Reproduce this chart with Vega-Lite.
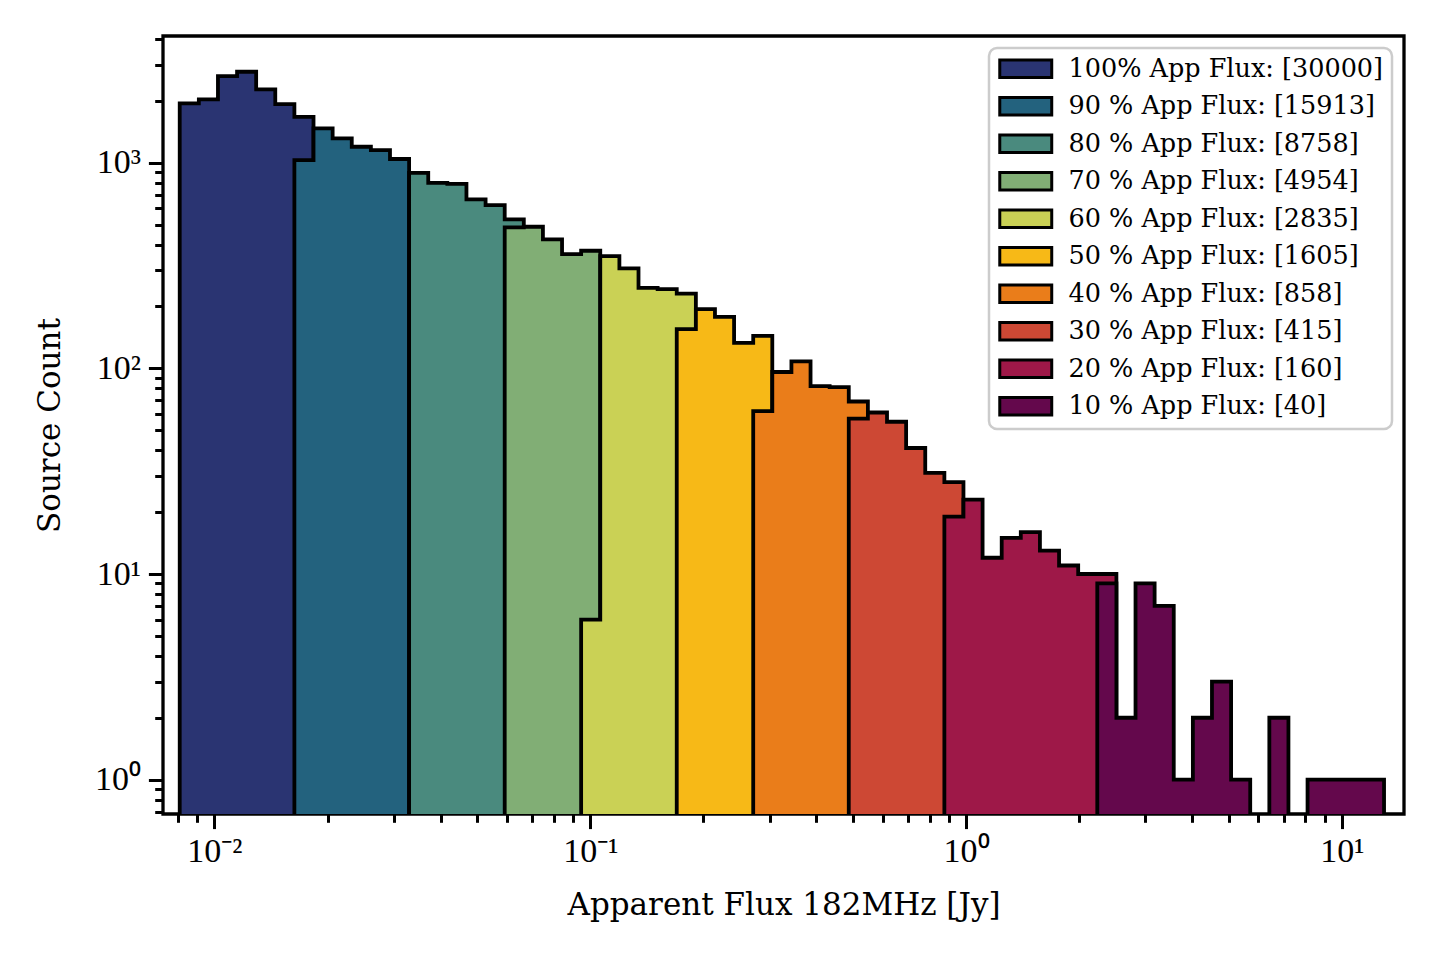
{
  "$schema": "https://vega.github.io/schema/vega-lite/v6.json",
  "width": 1241,
  "height": 778,
  "autosize": "none",
  "padding": {"left": 163, "top": 36, "right": 36, "bottom": 146},
  "background": "white",
  "config": {
    "view": {"stroke": "black", "strokeWidth": 3.3},
    "font": "Liberation Serif"
  },
  "data": {
    "values": [
      {"sample": "100% App Flux: [30000]", "seg": 0, "a": 0.008083, "b": 0.009088, "n": 1942},
      {"sample": "100% App Flux: [30000]", "seg": 0, "a": 0.009088, "b": 0.010217, "n": 2032},
      {"sample": "100% App Flux: [30000]", "seg": 0, "a": 0.010217, "b": 0.011487, "n": 2636},
      {"sample": "100% App Flux: [30000]", "seg": 0, "a": 0.011487, "b": 0.012912, "n": 2767},
      {"sample": "100% App Flux: [30000]", "seg": 0, "a": 0.012912, "b": 0.014516, "n": 2272},
      {"sample": "100% App Flux: [30000]", "seg": 0, "a": 0.014516, "b": 0.016320, "n": 1927},
      {"sample": "100% App Flux: [30000]", "seg": 0, "a": 0.016320, "b": 0.018349, "n": 1671},
      {"sample": "90 % App Flux: [15913]", "seg": 0, "a": 0.016320, "b": 0.018349, "n": 1030},
      {"sample": "90 % App Flux: [15913]", "seg": 0, "a": 0.018349, "b": 0.020630, "n": 1468},
      {"sample": "90 % App Flux: [15913]", "seg": 0, "a": 0.020630, "b": 0.023195, "n": 1313},
      {"sample": "90 % App Flux: [15913]", "seg": 0, "a": 0.023195, "b": 0.026080, "n": 1195},
      {"sample": "90 % App Flux: [15913]", "seg": 0, "a": 0.026080, "b": 0.029316, "n": 1151},
      {"sample": "90 % App Flux: [15913]", "seg": 0, "a": 0.029316, "b": 0.032961, "n": 1042},
      {"sample": "80 % App Flux: [8758]", "seg": 0, "a": 0.032961, "b": 0.037060, "n": 893},
      {"sample": "80 % App Flux: [8758]", "seg": 0, "a": 0.037060, "b": 0.041660, "n": 798},
      {"sample": "80 % App Flux: [8758]", "seg": 0, "a": 0.041660, "b": 0.046838, "n": 789},
      {"sample": "80 % App Flux: [8758]", "seg": 0, "a": 0.046838, "b": 0.052665, "n": 663},
      {"sample": "80 % App Flux: [8758]", "seg": 0, "a": 0.052665, "b": 0.059211, "n": 622},
      {"sample": "80 % App Flux: [8758]", "seg": 0, "a": 0.059211, "b": 0.066563, "n": 530},
      {"sample": "70 % App Flux: [4954]", "seg": 0, "a": 0.059211, "b": 0.066563, "n": 485},
      {"sample": "70 % App Flux: [4954]", "seg": 0, "a": 0.066563, "b": 0.074836, "n": 488},
      {"sample": "70 % App Flux: [4954]", "seg": 0, "a": 0.074836, "b": 0.084140, "n": 424},
      {"sample": "70 % App Flux: [4954]", "seg": 0, "a": 0.084140, "b": 0.094579, "n": 359},
      {"sample": "70 % App Flux: [4954]", "seg": 0, "a": 0.094579, "b": 0.10634, "n": 373},
      {"sample": "60 % App Flux: [2835]", "seg": 0, "a": 0.094579, "b": 0.10634, "n": 6},
      {"sample": "60 % App Flux: [2835]", "seg": 0, "a": 0.10634, "b": 0.11956, "n": 351},
      {"sample": "60 % App Flux: [2835]", "seg": 0, "a": 0.11956, "b": 0.13442, "n": 306},
      {"sample": "60 % App Flux: [2835]", "seg": 0, "a": 0.13442, "b": 0.15112, "n": 246},
      {"sample": "60 % App Flux: [2835]", "seg": 0, "a": 0.15112, "b": 0.16991, "n": 243},
      {"sample": "60 % App Flux: [2835]", "seg": 0, "a": 0.16991, "b": 0.19104, "n": 231},
      {"sample": "50 % App Flux: [1605]", "seg": 0, "a": 0.16991, "b": 0.19104, "n": 155},
      {"sample": "50 % App Flux: [1605]", "seg": 0, "a": 0.19104, "b": 0.21475, "n": 194},
      {"sample": "50 % App Flux: [1605]", "seg": 0, "a": 0.21475, "b": 0.24144, "n": 178},
      {"sample": "50 % App Flux: [1605]", "seg": 0, "a": 0.24144, "b": 0.27146, "n": 133},
      {"sample": "50 % App Flux: [1605]", "seg": 0, "a": 0.27146, "b": 0.30514, "n": 144},
      {"sample": "40 % App Flux: [858]", "seg": 0, "a": 0.27146, "b": 0.30514, "n": 62},
      {"sample": "40 % App Flux: [858]", "seg": 0, "a": 0.30514, "b": 0.34309, "n": 96},
      {"sample": "40 % App Flux: [858]", "seg": 0, "a": 0.34309, "b": 0.38574, "n": 108},
      {"sample": "40 % App Flux: [858]", "seg": 0, "a": 0.38574, "b": 0.43362, "n": 82},
      {"sample": "40 % App Flux: [858]", "seg": 0, "a": 0.43362, "b": 0.48753, "n": 81},
      {"sample": "40 % App Flux: [858]", "seg": 0, "a": 0.48753, "b": 0.54815, "n": 69},
      {"sample": "30 % App Flux: [415]", "seg": 0, "a": 0.48753, "b": 0.54815, "n": 57},
      {"sample": "30 % App Flux: [415]", "seg": 0, "a": 0.54815, "b": 0.61630, "n": 61},
      {"sample": "30 % App Flux: [415]", "seg": 0, "a": 0.61630, "b": 0.69283, "n": 55},
      {"sample": "30 % App Flux: [415]", "seg": 0, "a": 0.69283, "b": 0.77896, "n": 41},
      {"sample": "30 % App Flux: [415]", "seg": 0, "a": 0.77896, "b": 0.87581, "n": 31},
      {"sample": "30 % App Flux: [415]", "seg": 0, "a": 0.87581, "b": 0.98446, "n": 28},
      {"sample": "20 % App Flux: [160]", "seg": 0, "a": 0.87581, "b": 0.98446, "n": 19},
      {"sample": "20 % App Flux: [160]", "seg": 0, "a": 0.98446, "b": 1.1069, "n": 23},
      {"sample": "20 % App Flux: [160]", "seg": 0, "a": 1.1069, "b": 1.2445, "n": 12},
      {"sample": "20 % App Flux: [160]", "seg": 0, "a": 1.2445, "b": 1.3989, "n": 15},
      {"sample": "20 % App Flux: [160]", "seg": 0, "a": 1.3989, "b": 1.5729, "n": 16},
      {"sample": "20 % App Flux: [160]", "seg": 0, "a": 1.5729, "b": 1.7685, "n": 13},
      {"sample": "20 % App Flux: [160]", "seg": 0, "a": 1.7685, "b": 1.9884, "n": 11},
      {"sample": "20 % App Flux: [160]", "seg": 0, "a": 1.9884, "b": 2.2352, "n": 10},
      {"sample": "20 % App Flux: [160]", "seg": 0, "a": 2.2352, "b": 2.5131, "n": 10},
      {"sample": "10 % App Flux: [40]", "seg": 1, "a": 2.2352, "b": 2.5131, "n": 9},
      {"sample": "10 % App Flux: [40]", "seg": 1, "a": 2.5131, "b": 2.8255, "n": 2},
      {"sample": "10 % App Flux: [40]", "seg": 1, "a": 2.8255, "b": 3.1762, "n": 9},
      {"sample": "10 % App Flux: [40]", "seg": 1, "a": 3.1762, "b": 3.5711, "n": 7},
      {"sample": "10 % App Flux: [40]", "seg": 1, "a": 3.5711, "b": 4.0152, "n": 1},
      {"sample": "10 % App Flux: [40]", "seg": 1, "a": 4.0152, "b": 4.5136, "n": 2},
      {"sample": "10 % App Flux: [40]", "seg": 1, "a": 4.5136, "b": 5.0748, "n": 3},
      {"sample": "10 % App Flux: [40]", "seg": 1, "a": 5.0748, "b": 5.7058, "n": 1},
      {"sample": "10 % App Flux: [40]", "seg": 2, "a": 6.4150, "b": 7.2111, "n": 2},
      {"sample": "10 % App Flux: [40]", "seg": 3, "a": 8.1078, "b": 9.1157, "n": 1},
      {"sample": "10 % App Flux: [40]", "seg": 3, "a": 9.1157, "b": 10.247, "n": 1},
      {"sample": "10 % App Flux: [40]", "seg": 3, "a": 10.247, "b": 11.522, "n": 1},
      {"sample": "10 % App Flux: [40]", "seg": 3, "a": 11.522, "b": 12.955, "n": 1}
    ]
  },
  "transform": [{"fold": ["a", "b"], "as": ["edge", "flux"]}],
  "mark": {
    "type": "area",
    "clip": true,
    "opacity": 1,
    "fillOpacity": 1,
    "stroke": "black",
    "strokeWidth": 3.8,
    "strokeJoin": "miter"
  },
  "encoding": {
    "x": {
      "field": "flux",
      "type": "quantitative",
      "scale": {"type": "log", "domain": [0.007296, 14.64], "nice": false},
      "axis": {
        "title": "Apparent Flux 182MHz [Jy]",
        "titleFont": "DejaVu Serif",
        "titleFontSize": 31,
        "titleFontWeight": "normal",
        "titleColor": "black",
        "titlePadding": 22,
        "values": [0.008, 0.009, 0.01, 0.02, 0.03, 0.04, 0.05, 0.06, 0.07, 0.08, 0.09, 0.1, 0.2, 0.3, 0.4, 0.5, 0.6, 0.7, 0.8, 0.9, 1, 2, 3, 4, 5, 6, 7, 8, 9, 10],
        "labelExpr": "datum.value === 0.01 ? '10⁻²' : datum.value === 0.1 ? '10⁻¹' : datum.value === 1 ? '10⁰' : datum.value === 10 ? '10¹' : ''",
        "labelFont": "Liberation Serif",
        "labelFontSize": 34,
        "labelColor": "black",
        "labelPadding": 6,
        "labelOverlap": false,
        "labelFlush": false,
        "domain": false,
        "grid": false,
        "tickColor": "black",
        "tickWidth": 3,
        "tickSize": {"condition": {"test": "abs(log(datum.value)/LN10 - round(log(datum.value)/LN10)) < 0.000001", "value": 14.6}, "value": 8.3}
      }
    },
    "y": {
      "field": "n",
      "type": "quantitative",
      "scale": {"type": "log", "domain": [0.681, 4130], "nice": false},
      "axis": {
        "title": "Source Count",
        "titleFont": "DejaVu Serif",
        "titleFontSize": 31,
        "titleFontWeight": "normal",
        "titleColor": "black",
        "titlePadding": 28,
        "values": [0.7, 0.8, 0.9, 1, 2, 3, 4, 5, 6, 7, 8, 9, 10, 20, 30, 40, 50, 60, 70, 80, 90, 100, 200, 300, 400, 500, 600, 700, 800, 900, 1000, 2000, 3000, 4000],
        "labelExpr": "datum.value === 1 ? '10⁰' : datum.value === 10 ? '10¹' : datum.value === 100 ? '10²' : datum.value === 1000 ? '10³' : ''",
        "labelFont": "Liberation Serif",
        "labelFontSize": 34,
        "labelColor": "black",
        "labelPadding": 8,
        "labelOverlap": false,
        "labelFlush": false,
        "domain": false,
        "grid": false,
        "tickColor": "black",
        "tickWidth": 3,
        "tickSize": {"condition": {"test": "abs(log(datum.value)/LN10 - round(log(datum.value)/LN10)) < 0.000001", "value": 14.6}, "value": 8.3}
      }
    },
    "y2": {"datum": 0.3},
    "color": {
      "field": "sample",
      "type": "nominal",
      "scale": {
        "domain": ["100% App Flux: [30000]", "90 % App Flux: [15913]", "80 % App Flux: [8758]", "70 % App Flux: [4954]", "60 % App Flux: [2835]", "50 % App Flux: [1605]", "40 % App Flux: [858]", "30 % App Flux: [415]", "20 % App Flux: [160]", "10 % App Flux: [40]"],
        "range": ["#2a3472", "#23627e", "#4a8a7e", "#81ae75", "#cad155", "#f7b917", "#ea7d1a", "#cd4834", "#9e1848", "#64084c"]
      },
      "legend": {
        "title": null,
        "orient": "top-right",
        "offset": 12,
        "padding": 8,
        "symbolType": "M-3,-1H3V1H-3Z",
        "symbolSize": 300,
        "symbolOffset": 16,
        "symbolStrokeColor": "black",
        "symbolStrokeWidth": 3,
        "symbolOpacity": 1,
        "symbolFillOpacity": 1,
        "labelFont": "DejaVu Serif",
        "labelFontSize": 25.5,
        "labelColor": "black",
        "labelOffset": 30,
        "labelLimit": 0,
        "rowPadding": 7.5,
        "encode": {
          "legend": {
            "update": {
              "fill": {"value": "white"},
              "stroke": {"value": "#cccccc"},
              "strokeWidth": {"value": 2.5},
              "cornerRadius": {"value": 8}
            }
          }
        }
      }
    },
    "detail": {"field": "seg"},
    "order": [
      {"field": "flux", "type": "quantitative"},
      {"field": "edge", "type": "nominal", "sort": "descending"}
    ]
  }
}
